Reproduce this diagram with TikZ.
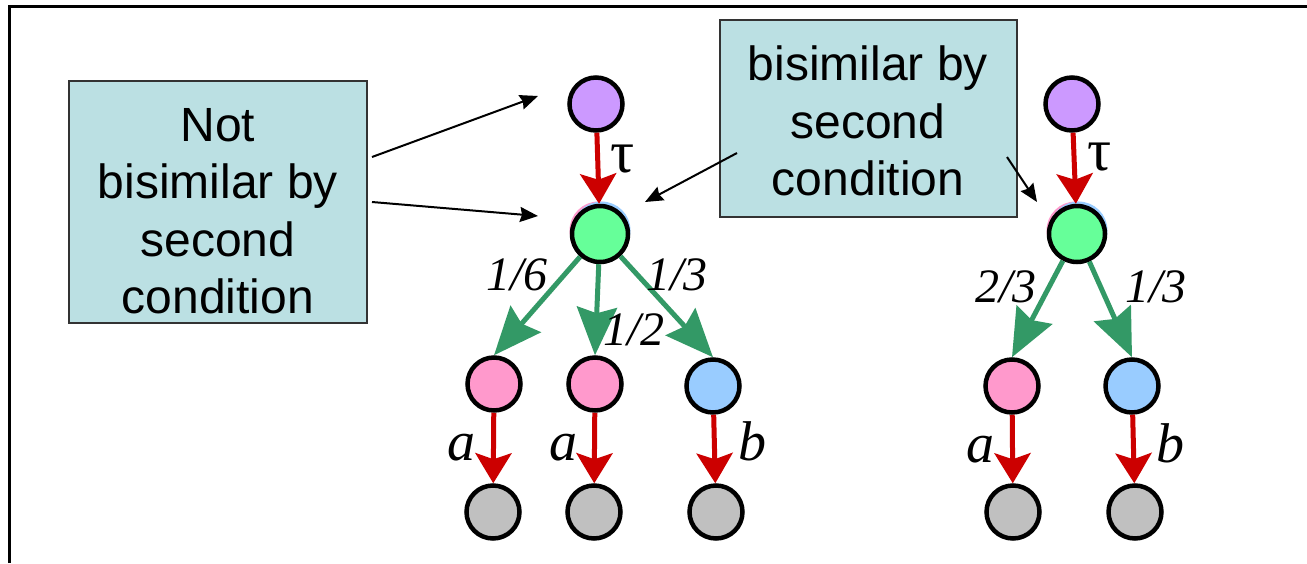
\documentclass[tikz,border=0pt]{standalone}
\usepackage{fontspec}
\setmainfont{Liberation Sans}
\newfontfamily\serifit{Liberation Serif}
\usetikzlibrary{arrows.meta,calc}

\definecolor{stpurple}{HTML}{CC99FF}
\definecolor{stgreen}{HTML}{66FF99}
\definecolor{stpink}{HTML}{FF99CC}
\definecolor{stblue}{HTML}{99CCFF}
\definecolor{stgrey}{HTML}{C0C0C0}
\definecolor{actred}{HTML}{CC0000}
\definecolor{probgreen}{HTML}{339966}
\definecolor{notefill}{HTML}{BBE0E3}
\definecolor{noteline}{HTML}{333333}

\begin{document}
\begin{tikzpicture}[x=1pt,y=-1pt,
  state/.style={circle, draw=black, line width=4.5pt, minimum size=53pt, inner sep=0pt},
  bigstate/.style={state, minimum size=56pt},
  actarrow/.style={draw=actred, line width=5pt, -{Stealth[length=30pt,width=36pt,inset=6pt]}},
  probarrow/.style={draw=probgreen, line width=5pt, -{Stealth[length=48pt,width=40pt,inset=6pt]}},
  pointer/.style={draw=black, line width=2pt, -{Stealth[length=18pt,width=15pt,inset=2pt]}},
  note/.style={rectangle, draw=noteline, fill=notefill, line width=2pt, inner sep=0pt},
  notetext/.style={align=center, font=\fontsize{48}{57.5}\selectfont, inner sep=0pt},
  prob/.style={anchor=base, inner sep=0pt, font=\serifit\itshape\fontsize{48}{48}\selectfont},
  act/.style={anchor=base, inner sep=0pt, font=\serifit\fontsize{60}{60}\selectfont},
  lbl/.style={anchor=base, inner sep=0pt, font=\serifit\itshape\fontsize{56}{56}\selectfont},
]
\useasboundingbox (0,0) rectangle (1307,563);

% frame
\draw[line width=3pt] (9.5,563) -- (9.5,6) -- (1307,6);

% notes
\node[note, minimum width=298pt, minimum height=242pt] (noteL) at (218,202) {};
\node[notetext] (noteLtext) at (218,211) {Not\\bisimilar by\\second\\condition};
\node[note, minimum width=297pt, minimum height=197pt] (noteR) at (868.5,118.5) {};
\node[notetext] (noteRtext) at (868,121) {bisimilar by\\second\\condition};

% left process
\fill[stpink] (598.5,230.5) circle (29);
\fill[stblue] (601.5,230.5) circle (29);
\node[state, fill=stpurple]  (pl) at (596,104) {};
\node[bigstate, fill=stgreen] (gl) at (600,234) {};
\node[state, fill=stpink]   (al1) at (494,384) {};
\node[state, fill=stpink]   (al2) at (595,384) {};
\node[state, fill=stblue]   (bl) at (713,386) {};
\node[state, fill=stgrey]   (zl1) at (493,512) {};
\node[state, fill=stgrey]   (zl2) at (594,512) {};
\node[state, fill=stgrey]   (zl3) at (716,512) {};

\draw[actarrow] (pl) -- (gl);
\draw[probarrow] (gl) -- (al1.north);
\draw[probarrow] (gl) -- (al2.north);
\draw[probarrow] (gl) -- (bl.north);
\draw[actarrow] (al1) -- (zl1);
\draw[actarrow] (al2) -- (zl2);
\draw[actarrow] (bl) -- (zl3);

\node[act] (taul) at (623,172) {τ};
\node[prob] (p16) at (517,290) {1/6};
\node[prob] (p12) at (634,345) {1/2};
\node[prob] (p13l) at (677,290) {1/3};
\node[lbl] (la1) at (461,460) {a};
\node[lbl] (la2) at (563,460) {a};
\node[lbl] (lb) at (752,460) {b};

% right process
\fill[stpink] (1075.5,230.5) circle (29);
\fill[stblue] (1078.5,230.5) circle (29);
\node[state, fill=stpurple]  (pr) at (1072,104) {};
\node[bigstate, fill=stgreen] (gr) at (1077,234) {};
\node[state, fill=stpink]   (ar) at (1012,386) {};
\node[state, fill=stblue]   (br) at (1132,386) {};
\node[state, fill=stgrey]   (zr1) at (1013,512) {};
\node[state, fill=stgrey]   (zr2) at (1135,512) {};

\draw[actarrow] (pr) -- (gr);
\draw[probarrow] (gr) -- (ar.north);
\draw[probarrow] (gr) -- (br.north);
\draw[actarrow] (ar) -- (zr1);
\draw[actarrow] (br) -- (zr2);

\node[act] (taur) at (1100,170) {τ};
\node[prob] (p23) at (1006,302) {2/3};
\node[prob] (p13r) at (1156,302) {1/3};
\node[lbl] (ra) at (980,462) {a};
\node[lbl] (rb) at (1170,462) {b};

% pointers from the notes
\coordinate (s1) at (372,157);
\coordinate (e1) at (538,96);
\coordinate (s2) at (372,202);
\coordinate (e2) at (538,216);
\coordinate (s3) at (737,153);
\coordinate (e3) at (645,202);
\coordinate (s4) at (1007,157);
\coordinate (e4) at (1037,202);
\draw[pointer] (s1) -- (e1);
\draw[pointer] (s2) -- (e2);
\draw[pointer] (s3) -- (e3);
\draw[pointer] (s4) -- (e4);
\end{tikzpicture}
\end{document}
